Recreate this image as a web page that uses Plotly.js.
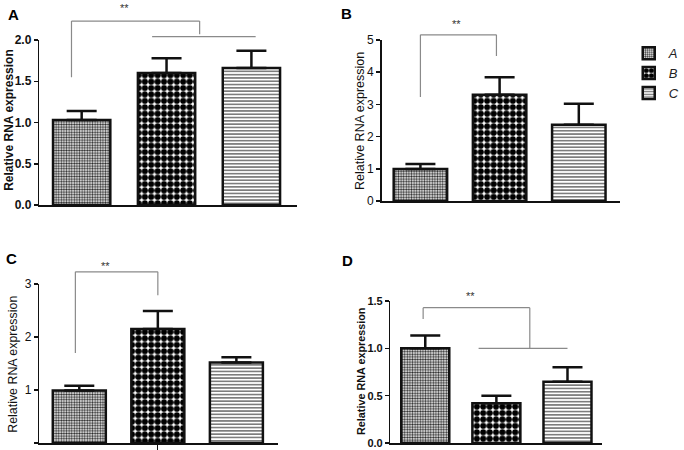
<!DOCTYPE html>
<html>
<head>
<meta charset="utf-8">
<script src="https://cdn.plot.ly/plotly-3.0.1.min.js"></script>
<style>html,body{margin:0;padding:0;background:#fff;}#chart{width:684px;height:450px;}</style>
</head>
<body>
<div id="chart"></div>
<script>
// ---- data ----
const groups = ['A', 'B', 'C'];
const meanA = [1.03, 1.60, 1.66];
const errA  = [0.11, 0.18, 0.21];
const meanB = [0.99, 3.30, 2.37];
const errB  = [0.16, 0.54, 0.65];
const meanC = [0.99, 2.15, 1.52];
const errC  = [0.09, 0.34, 0.10];
const meanD = [1.00, 0.42, 0.646];
const errD  = [0.135, 0.08, 0.154];
const panelLetters = ['A', 'B', 'C', 'D'];
const yTitle = 'Relative RNA expression';
const sigText = '**';
// significance brackets (data units: x = group index, y = value)
const bracketAx = [-0.12, -0.12, 1.39, 1.39];
const bracketAy = [1.55, 2.23, 2.23, 2.07];
const bracketA2x = [0.83, 2.05];
const bracketA2y = [2.04, 2.04];
const bracketBx = [0.0, 0.0, 0.96, 0.96];
const bracketBy = [3.23, 5.16, 5.16, 4.50];
const bracketCx = [-0.05, -0.05, 1.0, 1.0];
const bracketCy = [1.70, 3.23, 3.23, 2.79];
const bracketDx = [-0.03, -0.03, 1.47, 1.47];
const bracketDy = [1.31, 1.43, 1.43, 1.00];
const bracketD2x = [0.75, 2.0];
const bracketD2y = [1.00, 1.00];
// "**" label positions (x = group index, y = top of the label box in data units)
const starPos = [[0.51, 2.484], [0.46, 5.76], [0.34, 3.50], [0.63, 1.64]];

const means = [meanA, meanB, meanC, meanD];
const errs = [errA, errB, errC, errD];
const brackets = [
  [[bracketAx, bracketAy], [bracketA2x, bracketA2y]],
  [[bracketBx, bracketBy]],
  [[bracketCx, bracketCy]],
  [[bracketDx, bracketDy], [bracketD2x, bracketD2y]]
];

// ---- layout / style ----
const W = 684, H = 450;
const FONT = 'Liberation Sans, Arial, sans-serif';
const px = v => v / W, py = v => 1 - v / H;
const panels = [
  {xd: [40, 303], yd: [205, 40], xr: [-0.5, 2.54], yr: [0, 2], dt: 0.5, fmt: '.1f', bold: true, tsize: 12,
   title: {x: 9, y: 120, size: 12, bold: true}, letter: {x: 14, y: 15}, tick: false},
  {xd: [389, 632], yd: [201, 40], xr: [-0.49, 2.52], yr: [0, 5], dt: 1, fmt: 'd', bold: false, tsize: 12,
   title: {x: 367, y: 121, size: 12.5, bold: false}, letter: {x: 353, y: 14}, tick: false},
  {xd: [40, 283], yd: [443, 284], xr: [-0.51, 2.525], yr: [0, 3], dt: 1, fmt: 'd', bold: false, tsize: 12,
   title: {x: 13, y: 364, size: 12.4, bold: false}, letter: {x: 12, y: 258}, tick: true},
  {xd: [398, 614], yd: [443, 301], xr: [-0.49, 2.49], yr: [0, 1.5], dt: 0.5, fmt: '.1f', bold: true, tsize: 11,
   title: {x: 368, y: 372, size: 10.8, bold: true}, letter: {x: 354, y: 260}, tick: false}
];
const barWidth = 0.675;
const patterns = [
  {shape: '.', fgcolor: '#2a2a2a', bgcolor: '#ffffff', size: 2.6, solidity: 0.5},
  {shape: '.', fgcolor: '#000000', bgcolor: '#ffffff', size: 6.4, solidity: 0.72},
  {shape: '-', fgcolor: '#6e6e6e', bgcolor: '#ffffff', size: 3.3, solidity: 0.45}
];

const traces = [];
const layout = {
  width: W, height: H,
  margin: {l: 0, r: 0, t: 0, b: 0},
  paper_bgcolor: '#fff', plot_bgcolor: 'rgba(0,0,0,0)',
  barmode: 'overlay',
  showlegend: true,
  font: {family: FONT, color: '#111'},
  legend: {x: 0.937, y: 0.915, xanchor: 'left', yanchor: 'top',
           font: {family: FONT, size: 13, style: 'italic', color: '#222'},
           bgcolor: 'rgba(0,0,0,0)', tracegroupgap: 0},
  annotations: [],
  shapes: []
};

panels.forEach((p, i) => {
  const sfx = i === 0 ? '' : String(i + 1);
  const xid = 'x' + sfx, yid = 'y' + sfx;
  const yFrac = v => (v - p.yr[0]) / (p.yr[1] - p.yr[0]);  // value -> fraction of y domain
  layout['xaxis' + sfx] = {
    domain: [px(p.xd[0]), px(p.xd[1])], range: p.xr, anchor: yid,
    showline: true, linecolor: '#111', linewidth: 1.5,
    showgrid: false, zeroline: false, showticklabels: false,
    ticks: p.tick ? 'outside' : '', tickvals: p.tick ? [1] : [], ticklen: 6, tickwidth: 1, tickcolor: '#111',
    fixedrange: true
  };
  layout['yaxis' + sfx] = {
    domain: [py(p.yd[0]), py(p.yd[1])], range: p.yr, anchor: xid,
    showline: true, linecolor: '#111', linewidth: 1.5,
    showgrid: false, zeroline: false,
    ticks: 'outside', ticklen: 4, tickwidth: 1.5, tickcolor: '#111',
    dtick: p.dt, tick0: 0, tickformat: p.fmt,
    tickfont: {family: FONT, size: p.tsize, weight: p.bold ? 'bold' : 'normal', color: '#111'},
    fixedrange: true
  };
  groups.forEach((g, k) => {
    traces.push({
      type: 'bar', name: g, legendgroup: g, showlegend: i === 0,
      x: [k], y: [means[i][k]], width: barWidth,
      xaxis: xid, yaxis: yid,
      marker: {color: '#ffffff', line: {color: '#111', width: 2.5}, pattern: patterns[k]},
      error_y: {type: 'data', symmetric: false, array: [errs[i][k]], arrayminus: [0],
                color: '#111', thickness: 2.5, width: 15},
      hoverinfo: 'skip'
    });
  });
  brackets[i].forEach(b => {
    for (let s = 0; s < b[0].length - 1; s++) {
      layout.shapes.push({
        type: 'line', xref: xid, yref: yid + ' domain',
        x0: b[0][s], x1: b[0][s + 1], y0: yFrac(b[1][s]), y1: yFrac(b[1][s + 1]),
        line: {color: '#8a8a8a', width: 1.2}
      });
    }
  });
  layout.annotations.push({
    xref: xid, yref: yid + ' domain', x: starPos[i][0], y: yFrac(starPos[i][1]), text: sigText, showarrow: false,
    xanchor: 'center', yanchor: 'top',
    font: {family: FONT, size: 11, color: '#333'}
  });
  layout.annotations.push({
    xref: 'paper', yref: 'paper', x: px(p.letter.x), y: py(p.letter.y), text: panelLetters[i],
    showarrow: false, xanchor: 'center', yanchor: 'middle',
    font: {family: FONT, size: 15, weight: 'bold', color: '#000'}
  });
  layout.annotations.push({
    xref: 'paper', yref: 'paper', x: px(p.title.x), y: py(p.title.y), text: yTitle,
    showarrow: false, textangle: -90, xanchor: 'center', yanchor: 'middle',
    font: {family: FONT, size: p.title.size, weight: p.title.bold ? 'bold' : 'normal', color: '#111'}
  });
});

Plotly.newPlot('chart', traces, layout, {staticPlot: true, displayModeBar: false});
</script>
</body>
</html>
